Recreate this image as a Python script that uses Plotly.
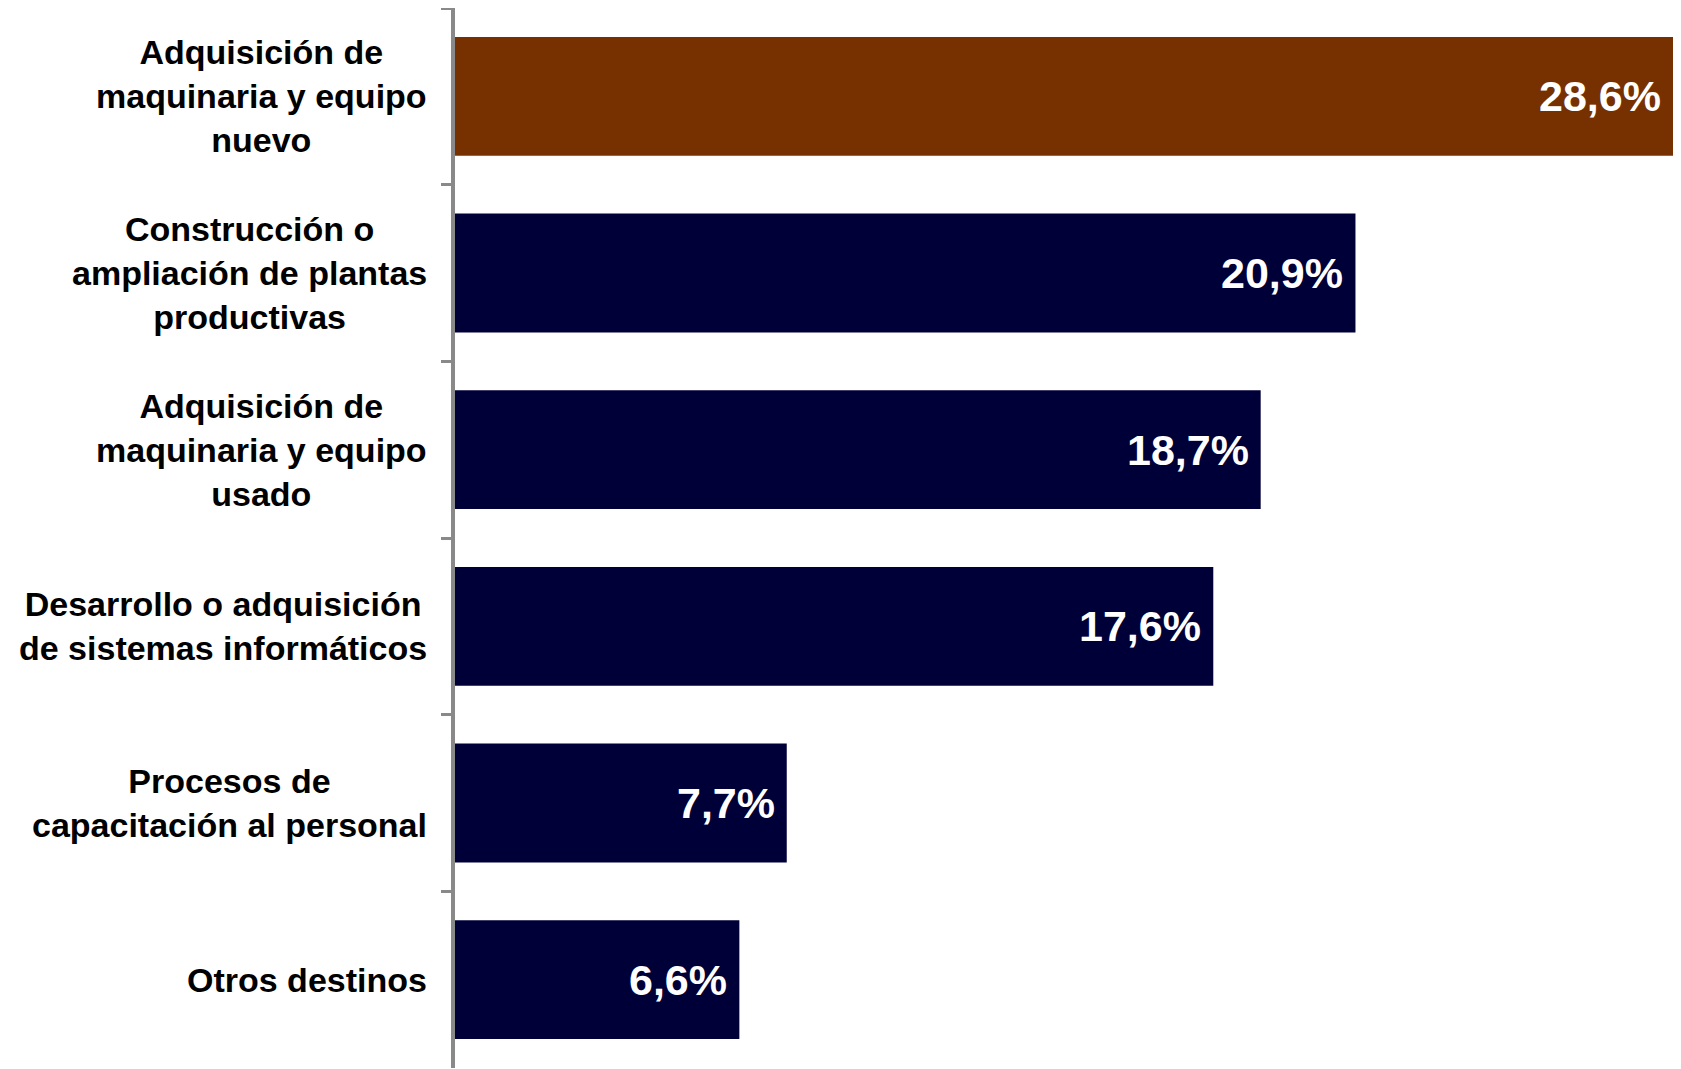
import plotly.graph_objects as go

categories = [
    "Adquisición de maquinaria y equipo nuevo",
    "Construcción o ampliación de plantas productivas",
    "Adquisición de maquinaria y equipo usado",
    "Desarrollo o adquisición de sistemas informáticos",
    "Procesos de capacitación al personal",
    "Otros destinos",
]
label_lines = [
    "Adquisición de<br>maquinaria y equipo<br>nuevo",
    "Construcción o<br>ampliación de plantas<br>productivas",
    "Adquisición de<br>maquinaria y equipo<br>usado",
    "Desarrollo o adquisición<br>de sistemas informáticos",
    "Procesos de<br>capacitación al personal",
    "Otros destinos",
]
values = [28.6, 20.9, 18.7, 17.6, 7.7, 6.6]
value_text = ["28,6%", "20,9%", "18,7%", "17,6%", "7,7%", "6,6%"]
colors = ["#773000", "#000038", "#000038", "#000038", "#000038", "#000038"]

X_MAX = 28.27  # visible axis end (largest bar runs past the edge, as in the original)

fig = go.Figure()
fig.add_trace(go.Bar(
    y=categories, x=values, orientation="h",
    marker=dict(color=colors, line=dict(width=0)),
    hoverinfo="skip",
))

for cat, lab in zip(categories, label_lines):
    fig.add_annotation(
        x=0, xref="paper", y=cat, yref="y",
        text="<b>" + lab + "</b>", showarrow=False,
        xanchor="right", yanchor="middle", align="center",
        xshift=-26,
        font=dict(family="Liberation Sans", size=34, color="black"),
    )

for cat, v, t in zip(categories, values, value_text):
    fig.add_annotation(
        x=min(v, X_MAX), xref="x", y=cat, yref="y",
        text="<b>" + t + "</b>", showarrow=False,
        xanchor="right", yanchor="middle", xshift=-10,
        font=dict(family="Liberation Sans", size=43, color="white"),
    )

fig.update_layout(
    width=1665, height=1061,
    margin=dict(l=447, r=0, t=0, b=1),
    paper_bgcolor="white", plot_bgcolor="white",
    bargap=0.327, showlegend=False,
)
fig.update_xaxes(range=[0, X_MAX], visible=False, showgrid=False, zeroline=False)
fig.update_yaxes(
    autorange="reversed", showticklabels=False, showgrid=False, zeroline=False,
    showline=True, linewidth=4, linecolor="#898989",
    ticks="outside", tickson="boundaries", ticklen=10, tickwidth=3, tickcolor="#898989",
)

fig.write_html("out.html")
